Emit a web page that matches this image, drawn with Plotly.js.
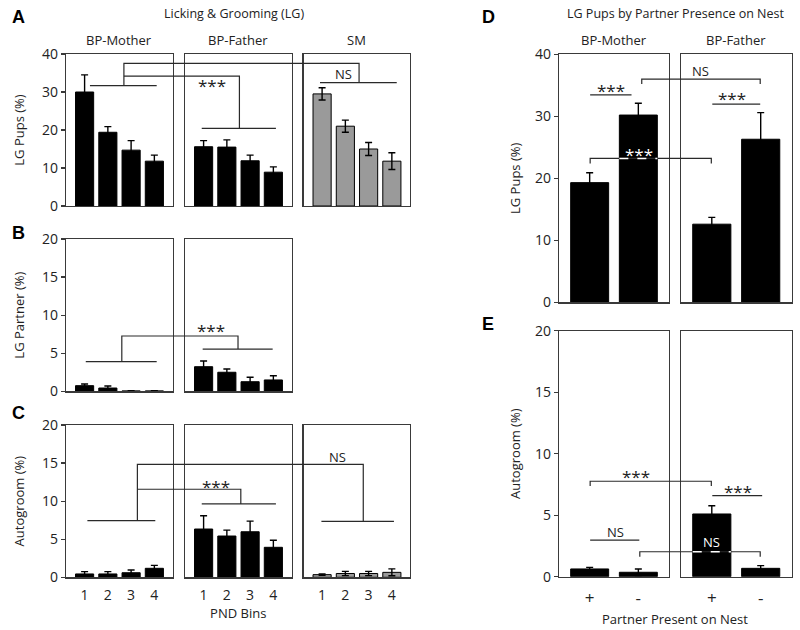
<!DOCTYPE html>
<html><head><meta charset="utf-8">
<script src="https://cdn.plot.ly/plotly-3.0.1.min.js"></script>
<style>html,body{margin:0;padding:0;background:#fff}</style>
</head><body><div id="chart" style="width:800px;height:630px"></div>
<script>
// ---------------- data ----------------
const pndBins = ['1', '2', '3', '4'];
const partnerLabels = ['+', '-'];

const lgPupsMother = [30.0, 19.4, 14.7, 11.8];
const lgPupsMotherErr = [4.5, 1.5, 2.5, 1.6];
const lgPupsFather = [15.6, 15.5, 11.9, 8.9];
const lgPupsFatherErr = [1.6, 1.9, 1.5, 1.4];
const lgPupsSM = [29.5, 21.0, 15.0, 11.8];
const lgPupsSMErr = [1.6, 1.6, 1.7, 2.2];

const lgPartnerMother = [0.74, 0.43, 0.05, 0.05];
const lgPartnerMotherErr = [0.22, 0.27, 0.02, 0.02];
const lgPartnerFather = [3.23, 2.5, 1.26, 1.49];
const lgPartnerFatherErr = [0.75, 0.43, 0.58, 0.56];

const autoMother = [0.44, 0.44, 0.6, 1.18];
const autoMotherErr = [0.3, 0.3, 0.36, 0.39];
const autoFather = [6.34, 5.42, 5.98, 3.94];
const autoFatherErr = [1.74, 0.78, 1.4, 0.92];
const autoSM = [0.35, 0.5, 0.5, 0.65];
const autoSMErr = [0.1, 0.28, 0.28, 0.45];

const nestLGMother = [19.3, 30.2];
const nestLGMotherErr = [1.6, 1.9];
const nestLGFather = [12.6, 26.3];
const nestLGFatherErr = [1.1, 4.3];
const nestAutoMother = [0.63, 0.36];
const nestAutoMotherErr = [0.13, 0.27];
const nestAutoFather = [5.1, 0.68];
const nestAutoFatherErr = [0.67, 0.22];

// significance brackets: points are [panel, category index, value]
const brackets = [
  // A
  {pts: [['A_M', 0.23, 31.66], ['A_M', 3.10, 31.66]]},
  {pts: [['A_M', 1.69, 31.66], ['A_M', 1.69, 37.55], ['A_S', 1.59, 37.55], ['A_S', 1.59, 32.45]]},
  {pts: [['A_S', -0.09, 32.45], ['A_S', 3.21, 32.45]]},
  {pts: [['A_M', 1.69, 34.2], ['A_F', 1.54, 34.2], ['A_F', 1.54, 20.45]]},
  {pts: [['A_F', -0.08, 20.45], ['A_F', 3.11, 20.45]]},
  // B
  {pts: [['B_M', 0.05, 3.89], ['B_M', 3.10, 3.89]]},
  {pts: [['B_M', 1.6, 3.89], ['B_M', 1.6, 7.26], ['B_F', 1.48, 7.26], ['B_F', 1.48, 5.55]]},
  {pts: [['B_F', -0.04, 5.55], ['B_F', 2.97, 5.55]]},
  // C
  {pts: [['C_M', 0.12, 7.43], ['C_M', 3.04, 7.43]]},
  {pts: [['C_M', 2.27, 7.43], ['C_M', 2.27, 14.84], ['C_S', 1.77, 14.84], ['C_S', 1.77, 7.35]]},
  {pts: [['C_M', 2.27, 11.56], ['C_F', 1.6, 11.56], ['C_F', 1.6, 9.63]]},
  {pts: [['C_F', -0.08, 9.63], ['C_F', 3.11, 9.63]]},
  {pts: [['C_S', -0.03, 7.35], ['C_S', 3.09, 7.35]]},
  // D
  {pts: [['D_M', 0.01, 33.44], ['D_M', 0.86, 33.44]]},
  {pts: [['D_M', 1.07, 35.2], ['D_M', 1.07, 36.0], ['D_F', 0.99, 36.0], ['D_F', 0.99, 35.2]]},
  {pts: [['D_F', 0.01, 31.98], ['D_F', 0.99, 31.98]]},
  {pts: [['D_M', 0.01, 22.4], ['D_M', 0.01, 23.2], ['D_F', -0.01, 23.2], ['D_F', -0.01, 22.4]]},
  {pts: [['D_M', 0.61, 23.2], ['D_M', 1.39, 23.2]], white: true},
  // E
  {pts: [['E_M', 0.01, 7.37], ['E_M', 0.01, 7.76], ['E_F', -0.01, 7.76], ['E_F', -0.01, 7.37]]},
  {pts: [['E_F', 0.01, 6.59], ['E_F', 1.03, 6.59]]},
  {pts: [['E_M', 0.01, 2.98], ['E_M', 1.02, 2.98]]},
  {pts: [['E_M', 1.03, 1.63], ['E_M', 1.03, 2.03], ['E_F', 0.99, 2.03], ['E_F', 0.99, 1.63]]},
  {pts: [['E_F', -0.39, 2.03], ['E_F', 0.39, 2.03]], white: true}
];
const sigLabels = [
  ['A_F', 0.36, 32.6, '***'], ['A_S', 0.90, 34.7, 'NS'],
  ['B_F', 0.30, 8.4, '***'],
  ['C_F', 0.53, 12.3, '***'], ['C_S', 0.66, 15.8, 'NS'],
  ['D_M', 0.44, 34.7, '***'], ['D_F', -0.24, 37.3, 'NS'], ['D_F', 0.42, 33.3, '***'], ['D_M', 1.01, 24.4, '***', 'w'],
  ['E_M', 0.945, 8.4, '***'], ['E_F', 0.53, 7.19, '***'], ['E_M', 0.54, 3.66, 'NS'], ['E_F', 0.0, 2.8, 'NS', 'w']
];

// ---------------- layout geometry ----------------
const W = 800, H = 630;
const FONT = '"Open Sans", "Noto Sans", sans-serif';
const TXT = '#222';
const LINE = '#3a3a3a';
const colL = {M: [66, 172.5], F: [185, 291.5], S: [303.5, 410]};
const rowL = {A: [54, 206], B: [239, 391.3], C: [425, 577.3]};
const colR = {M: [559, 669], F: [681, 791.5]};
const rowR = {D: [54.3, 302.3], E: [330.7, 576.7]};
const xRangeL = [-0.8, 3.78], xRangeR = [-0.63, 1.63];
const BLACK = '#000', GRAY = '#9a9a9a';

const panels = [
  {k: 'A_M', c: colL.M, r: rowL.A, yr: [0, 40], dt: 10, cats: pndBins, y: lgPupsMother, e: lgPupsMotherErr, col: BLACK, left: true, yt: 'LG Pups (%)'},
  {k: 'A_F', c: colL.F, r: rowL.A, yr: [0, 40], dt: 10, cats: pndBins, y: lgPupsFather, e: lgPupsFatherErr, col: BLACK},
  {k: 'A_S', c: colL.S, r: rowL.A, yr: [0, 40], dt: 10, cats: pndBins, y: lgPupsSM, e: lgPupsSMErr, col: GRAY},
  {k: 'B_M', c: colL.M, r: rowL.B, yr: [0, 20], dt: 5, cats: pndBins, y: lgPartnerMother, e: lgPartnerMotherErr, col: BLACK, left: true, yt: 'LG Partner (%)'},
  {k: 'B_F', c: colL.F, r: rowL.B, yr: [0, 20], dt: 5, cats: pndBins, y: lgPartnerFather, e: lgPartnerFatherErr, col: BLACK},
  {k: 'C_M', c: colL.M, r: rowL.C, yr: [0, 20], dt: 5, cats: pndBins, y: autoMother, e: autoMotherErr, col: BLACK, left: true, yt: 'Autogroom (%)', xl: true},
  {k: 'C_F', c: colL.F, r: rowL.C, yr: [0, 20], dt: 5, cats: pndBins, y: autoFather, e: autoFatherErr, col: BLACK, xl: true, xt: 'PND Bins'},
  {k: 'C_S', c: colL.S, r: rowL.C, yr: [0, 20], dt: 5, cats: pndBins, y: autoSM, e: autoSMErr, col: GRAY, xl: true},
  {k: 'D_M', c: colR.M, r: rowR.D, yr: [0, 40], dt: 10, cats: partnerLabels, y: nestLGMother, e: nestLGMotherErr, col: BLACK, left: true, yt: 'LG Pups (%)', right: true},
  {k: 'D_F', c: colR.F, r: rowR.D, yr: [0, 40], dt: 10, cats: partnerLabels, y: nestLGFather, e: nestLGFatherErr, col: BLACK, right: true},
  {k: 'E_M', c: colR.M, r: rowR.E, yr: [0, 20], dt: 5, cats: partnerLabels, y: nestAutoMother, e: nestAutoMotherErr, col: BLACK, left: true, yt: 'Autogroom (%)', xl: true, right: true},
  {k: 'E_F', c: colR.F, r: rowR.E, yr: [0, 20], dt: 5, cats: partnerLabels, y: nestAutoFather, e: nestAutoFatherErr, col: BLACK, xl: true, right: true}
];

const layout = {
  width: W, height: H, margin: {l: 0, r: 0, t: 0, b: 0},
  paper_bgcolor: '#fff', plot_bgcolor: 'rgba(0,0,0,0)',
  showlegend: false, font: {family: FONT, color: TXT, size: 12},
  shapes: [], annotations: []
};
const traces = [];
const idx = {};

panels.forEach((p, i) => {
  const n = i + 1, sfx = n === 1 ? '' : String(n);
  idx[p.k] = sfx;
  const xa = {
    domain: [p.c[0] / W, p.c[1] / W], range: p.right ? xRangeR : xRangeL,
    type: 'category', categoryorder: 'array', categoryarray: p.cats,
    anchor: 'y' + sfx, showline: true, mirror: true, linecolor: LINE, linewidth: 1.2,
    showgrid: false, zeroline: false, fixedrange: true,
    showticklabels: !!p.xl, ticks: p.xl ? 'outside' : '', ticklen: p.right ? 6 : 5,
    tickcolor: 'rgba(0,0,0,0)', tickfont: {size: p.right ? 17 : 14, color: TXT, family: FONT}
  };
  if (p.xt) xa.title = {text: p.xt, font: {size: 13, color: TXT, family: FONT}, standoff: 3};
  const ya = {
    domain: [1 - p.r[1] / H, 1 - p.r[0] / H], range: p.yr, dtick: p.dt,
    anchor: 'x' + sfx, showline: true, mirror: true, linecolor: LINE, linewidth: 1.2,
    showgrid: false, zeroline: false, fixedrange: true,
    showticklabels: !!p.left, ticks: p.left ? 'outside' : '', ticklen: 4, tickwidth: 1.2, tickcolor: LINE,
    tickfont: {size: 14, color: TXT, family: FONT}
  };
  if (p.yt) ya.title = {text: p.yt, font: {size: 13, color: TXT, family: FONT}, standoff: p.right ? 11 : 14};
  layout['xaxis' + sfx] = xa;
  layout['yaxis' + sfx] = ya;
  traces.push({
    type: 'bar', x: p.cats, y: p.y, xaxis: 'x' + sfx, yaxis: 'y' + sfx, width: 0.78,
    marker: {color: p.col, line: {color: '#000', width: 1}},
    error_y: {type: 'data', array: p.e, visible: true, color: '#000', thickness: 1.4, width: 3.5},
    hoverinfo: 'skip'
  });
});

function toPX(k, v) {
  const a = layout['xaxis' + idx[k]];
  return a.domain[0] + (v - a.range[0]) / (a.range[1] - a.range[0]) * (a.domain[1] - a.domain[0]);
}
function toPY(k, v) {
  const a = layout['yaxis' + idx[k]];
  return a.domain[0] + (v - a.range[0]) / (a.range[1] - a.range[0]) * (a.domain[1] - a.domain[0]);
}
brackets.forEach(b => {
  const d = b.pts.map((q, i) => (i ? 'L' : 'M') + toPX(q[0], q[1]).toFixed(5) + ',' + toPY(q[0], q[2]).toFixed(5)).join(' ');
  layout.shapes.push({type: 'path', xref: 'paper', yref: 'paper', path: d, layer: 'above',
    line: {color: b.white ? '#ffffff' : '#2a2a2a', width: b.white ? 1.6 : 1.2, dash: b.white ? 'dash' : 'solid'}});
});
sigLabels.forEach(s => {
  const star = s[3] === '***';
  layout.annotations.push({
    xref: 'x' + idx[s[0]], yref: 'y' + idx[s[0]], x: s[1], y: s[2], text: s[3], showarrow: false,
    xanchor: 'center', yanchor: 'middle', yshift: star ? -3 : 0,
    font: {family: FONT, size: star ? 17 : 13, color: s[4] === 'w' ? '#fff' : TXT}
  });
});

// titles and panel letters
function paperText(xpx, ypx, text, size, bold, family) {
  layout.annotations.push({xref: 'paper', yref: 'paper', x: xpx / W, y: 1 - ypx / H, text: bold ? '<b>' + text + '</b>' : text,
    showarrow: false, xanchor: 'center', yanchor: 'middle', font: {family: family || FONT, size: size, color: bold ? '#000' : TXT}});
}
paperText(234, 13, 'Licking & Grooming (LG)', 12.5);
paperText(675, 13, 'LG Pups by Partner Presence on Nest', 12.5);
paperText(675, 619, 'Partner Present on Nest', 13);
const colTitles = [['A_M', 'BP-Mother'], ['A_F', 'BP-Father'], ['A_S', 'SM'], ['D_M', 'BP-Mother'], ['D_F', 'BP-Father']];
colTitles.forEach(c => {
  layout.annotations.push({xref: 'x' + idx[c[0]] + ' domain', yref: 'paper', x: 0.5, y: 1 - 39.5 / H, text: c[1],
    showarrow: false, xanchor: 'center', yanchor: 'middle', font: {family: FONT, size: 13, color: TXT}});
});
const LETTER = '"Liberation Sans", Arial, sans-serif';
paperText(18, 17, 'A', 18, true, LETTER);
paperText(18, 233, 'B', 18, true, LETTER);
paperText(18, 413, 'C', 18, true, LETTER);
paperText(488, 17, 'D', 18, true, LETTER);
paperText(488, 324, 'E', 18, true, LETTER);

Plotly.newPlot('chart', traces, layout, {displayModeBar: false, staticPlot: true});
</script>
</body></html>
